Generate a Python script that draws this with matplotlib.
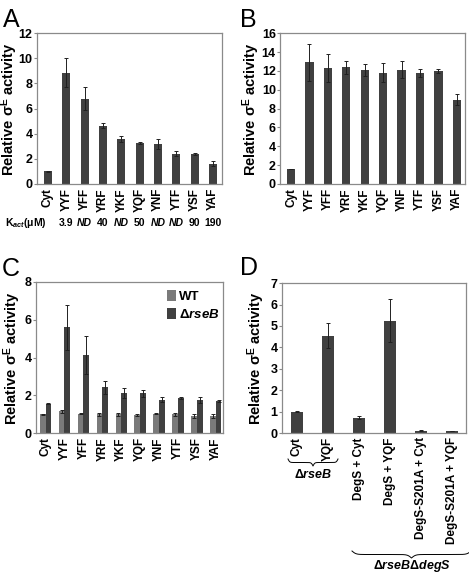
#!/usr/bin/env python3
import numpy as np
import matplotlib
matplotlib.use("Agg")
from matplotlib import pyplot as plt
from matplotlib import transforms
from matplotlib.lines import Line2D

fam = 'Liberation Sans'
plt.rcParams['font.family'] = [fam, 'DejaVu Sans']
plt.rcParams['font.weight'] = 'bold'
plt.rcParams['mathtext.fontset'] = 'custom'
plt.rcParams['mathtext.rm'] = fam + ':bold'
plt.rcParams['mathtext.it'] = fam + ':bold:italic'
plt.rcParams['mathtext.bf'] = fam + ':bold'

# ---- data ----
tripep = ['Cyt', 'YYF', 'YFF', 'YRF', 'YKF', 'YQF', 'YNF', 'YTF', 'YSF', 'YAF']
kact = ['3.9', 'ND', '40', 'ND', '50', 'ND', 'ND', '90', '190']

a_vals = [1.0, 8.85, 6.8, 4.62, 3.6, 3.25, 3.15, 2.42, 2.38, 1.62]
a_err = [0.03, 1.15, 0.9, 0.2, 0.25, 0.1, 0.4, 0.2, 0.1, 0.2]

b_vals = [1.6, 12.9, 12.3, 12.4, 12.1, 11.8, 12.1, 11.75, 11.95, 8.95]
b_err = [0.03, 2.0, 1.5, 0.7, 0.65, 1.0, 0.9, 0.4, 0.2, 0.55]

c_wt = [1.0, 1.15, 1.03, 1.0, 1.0, 0.97, 1.03, 1.0, 0.9, 0.9]
c_wt_err = [0.02, 0.08, 0.03, 0.07, 0.07, 0.06, 0.02, 0.07, 0.1, 0.1]
c_rseb = [1.57, 5.6, 4.15, 2.42, 2.12, 2.1, 1.78, 1.85, 1.75, 1.7]
c_rseb_err = [0.02, 1.2, 1.0, 0.35, 0.25, 0.18, 0.12, 0.06, 0.15, 0.03]

d_labels = ['Cyt', 'YQF', 'DegS + Cyt', 'DegS + YQF',
            'DegS-S201A + Cyt', 'DegS-S201A + YQF']
d_vals = [1.0, 4.55, 0.73, 5.25, 0.12, 0.1]
d_err = [0.03, 0.6, 0.07, 1.0, 0.02, 0.02]

dark = '#404040'
light = '#7a7a7a'
frame = '#8a8a8a'
ylab = r'Relative σ$^{\rm E}$ activity'


def style(ax, ymax, step, labx):
    ax.set_ylim(0, ymax)
    ax.set_yticks(np.arange(0, ymax + 0.01, step))
    for s in ax.spines.values():
        s.set_color(frame)
        s.set_linewidth(0.9)
    ax.tick_params(axis='y', labelsize=9, length=2, color=frame, pad=1)
    ax.tick_params(axis='x', labelsize=8.5, length=0, pad=3)
    for t in ax.get_yticklabels():
        t.set_fontweight('bold')
    ax.set_ylabel(ylab, fontsize=10.5, fontweight='bold')
    ax.yaxis.set_label_coords(labx, 0.5)


fig = plt.figure(figsize=(4.69, 5.73), dpi=100)
ekw = dict(ecolor='#202020', elinewidth=0.7, capsize=1.5, capthick=0.7)

# ---- A ----
axA = fig.add_axes([0.078, 0.679, 0.395, 0.263])
x = np.arange(len(tripep))
axA.bar(x, a_vals, 0.45, color=dark, yerr=a_err, error_kw=ekw)
axA.set_xlim(-0.62, len(tripep) - 0.52)
axA.set_xticks(x)
axA.set_xticklabels(tripep, rotation=90, fontweight='bold')
style(axA, 12, 2, -0.09)
tr = transforms.blended_transform_factory(axA.transData, axA.transAxes)
for i, k in enumerate(kact):
    axA.text(i + 1, -0.26, k, transform=tr, ha='center', va='center',
             fontsize=7.5, fontweight='bold',
             fontstyle='italic' if k == 'ND' else 'normal')
fig.text(0.011, 0.611, r'K$_{act}$(μM)', fontsize=7.5, fontweight='bold',
         va='center')

# ---- B ----
axB = fig.add_axes([0.597, 0.679, 0.394, 0.263])
axB.bar(x, b_vals, 0.45, color=dark, yerr=b_err, error_kw=ekw)
axB.set_xlim(-0.6, len(tripep) - 0.57)
axB.set_xticks(x)
axB.set_xticklabels(tripep, rotation=90, fontweight='bold')
style(axB, 16, 2, -0.095)

# ---- C ----
axC = fig.add_axes([0.077, 0.244, 0.398, 0.264])
w = 0.3
axC.bar(x - w / 2, c_wt, w, color=light, yerr=c_wt_err, error_kw=ekw,
        label='WT')
axC.bar(x + w / 2, c_rseb, w, color=dark, yerr=c_rseb_err, error_kw=ekw,
        label=r'Δ$\it{rseB}$')
axC.set_xlim(-0.5, len(tripep) - 0.63)
axC.set_xticks(x)
axC.set_xticklabels(tripep, rotation=90, fontweight='bold')
style(axC, 8, 2, -0.072)
axC.legend(loc='upper left', bbox_to_anchor=(0.66, 1.0), frameon=False,
           handlelength=0.7, handleheight=0.9, handletextpad=0.2,
           borderaxespad=0.2, labelspacing=0.4,
           prop={'weight': 'bold', 'size': 9.5})

# ---- D ----
axD = fig.add_axes([0.601, 0.244, 0.393, 0.262])
xd = np.arange(len(d_labels))
axD.bar(xd, d_vals, 0.4, color=dark, yerr=d_err, error_kw=ekw)
axD.set_xlim(-0.48, len(d_labels) - 0.55)
axD.set_xticks(xd)
axD.set_xticklabels(d_labels, rotation=90, fontweight='bold')
style(axD, 7, 1, -0.08)

# panel letters
for lab, (px, py) in zip('ABCD', [(0.006, 0.986), (0.511, 0.986),
                                  (0.004, 0.551), (0.511, 0.553)]):
    fig.text(px, py, lab, fontsize=18, fontweight='normal', va='top')


def brace(x0, x1, y, h):
    # curly brace, ends up, tip down; pixel coords from top-left
    b = 60.0
    t = np.linspace(0, 0.5, 100)
    half = 1 / (1 + np.exp(-b * t)) + 1 / (1 + np.exp(-b * (t - 0.5))) - 0.5
    ys = np.concatenate([half, half[::-1]])
    xs = np.concatenate([t, 1 - t[::-1]])
    px = x0 + (x1 - x0) * xs
    py = y + h * ys
    fig.add_artist(Line2D(px / 469, 1 - py / 573, color='black', lw=0.7))


brace(288, 338, 459, 7)
fig.text(313 / 469, 1 - 474 / 573, r'Δ$\it{rseB}$', ha='center',
         va='center', fontsize=9)
brace(352, 471, 551, 7)
fig.text(412 / 469, 1 - 566 / 573, r'Δ$\it{rseB}$Δ$\it{degS}$',
         ha='center', va='center', fontsize=9)

fig.savefig('out.png', dpi=100)
